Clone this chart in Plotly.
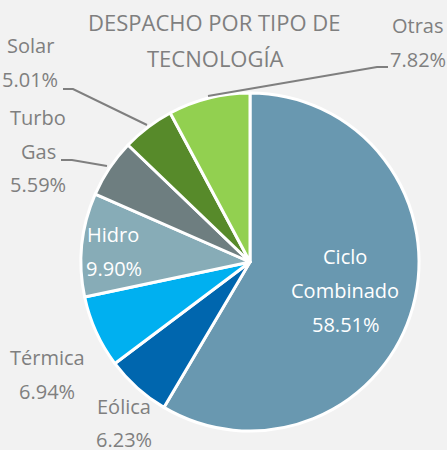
import plotly.graph_objects as go

categories = ["Ciclo Combinado", "Eólica", "Térmica", "Hidro", "Turbo Gas", "Solar", "Otras"]
values = [58.51, 6.23, 6.94, 9.90, 5.59, 5.01, 7.82]
colors = ["#6998B0", "#0066AE", "#00B0F0", "#87ACB7", "#6E7E80", "#578A2A", "#92D050"]
title_lines = ["DESPACHO POR TIPO DE", "TECNOLOGÍA"]

W, H = 447, 450
FONT = "Open Sans"
GREY = "#7f7f7f"

cx, cy, r = 250, 262, 169

fig = go.Figure(go.Pie(
    labels=categories, values=values, sort=False, direction="clockwise", rotation=0,
    marker=dict(colors=colors, line=dict(color="white", width=3)),
    textinfo="none", hoverinfo="label+percent",
    domain=dict(x=[(cx - r) / W, (cx + r) / W], y=[(H - cy - r) / H, (H - cy + r) / H]),
    showlegend=False,
))

def pct(v):
    return f"{v:.2f}%"

lab = {c: v for c, v in zip(categories, values)}
# (text, center x, baseline y, color, size)
lines = [
    (title_lines[0], 214, 31, GREY, 22),
    (title_lines[1], 215, 67, GREY, 22),
    ("Otras", 418, 34, GREY, 20),
    (pct(lab["Otras"]), 418, 68, GREY, 20),
    ("Solar", 30, 54, GREY, 20),
    (pct(lab["Solar"]), 30, 88, GREY, 20),
    ("Turbo", 38, 126, GREY, 20),
    ("Gas", 38, 160, GREY, 20),
    (pct(lab["Turbo Gas"]), 38, 193, GREY, 20),
    ("Hidro", 113, 243, "white", 20),
    (pct(lab["Hidro"]), 114, 277, "white", 20),
    ("Ciclo", 345, 265, "white", 20),
    ("Combinado", 345, 299, "white", 20),
    (pct(lab["Ciclo Combinado"]), 346, 333, "white", 20),
    ("Térmica", 47, 366, GREY, 20),
    (pct(lab["Térmica"]), 47, 400, GREY, 20),
    ("Eólica", 124, 415, GREY, 20),
    (pct(lab["Eólica"]), 124, 448, GREY, 20),
]
annotations = []
for t, x, y, c, fs in lines:
    annotations.append(dict(
        text=t, x=x / W, y=(H - y) / H, xref="paper", yref="paper",
        xanchor="center", yanchor="bottom", yshift=-round(fs * 0.27) - 2, showarrow=False,
        font=dict(family=FONT, size=fs, color=c),
    ))

leaders = [
    [(208, 96), (377, 67), (388, 67)],
    [(63, 89), (73, 89), (147, 125)],
    [(61, 160), (72, 160), (107, 166)],
]
shapes = []
for pts in leaders:
    path = "M " + " L ".join(f"{x / W},{(H - y) / H}" for x, y in pts)
    shapes.append(dict(type="path", path=path, xref="paper", yref="paper",
                       line=dict(color=GREY, width=2)))

fig.update_layout(
    width=W, height=H, margin=dict(l=0, r=0, t=0, b=0),
    paper_bgcolor="#f2f2f2", plot_bgcolor="#f2f2f2",
    annotations=annotations, shapes=shapes,
)

fig.write_html("out.html", config={"displayModeBar": False},
               post_script="document.body.style.margin='0';document.body.style.overflow='hidden';")
